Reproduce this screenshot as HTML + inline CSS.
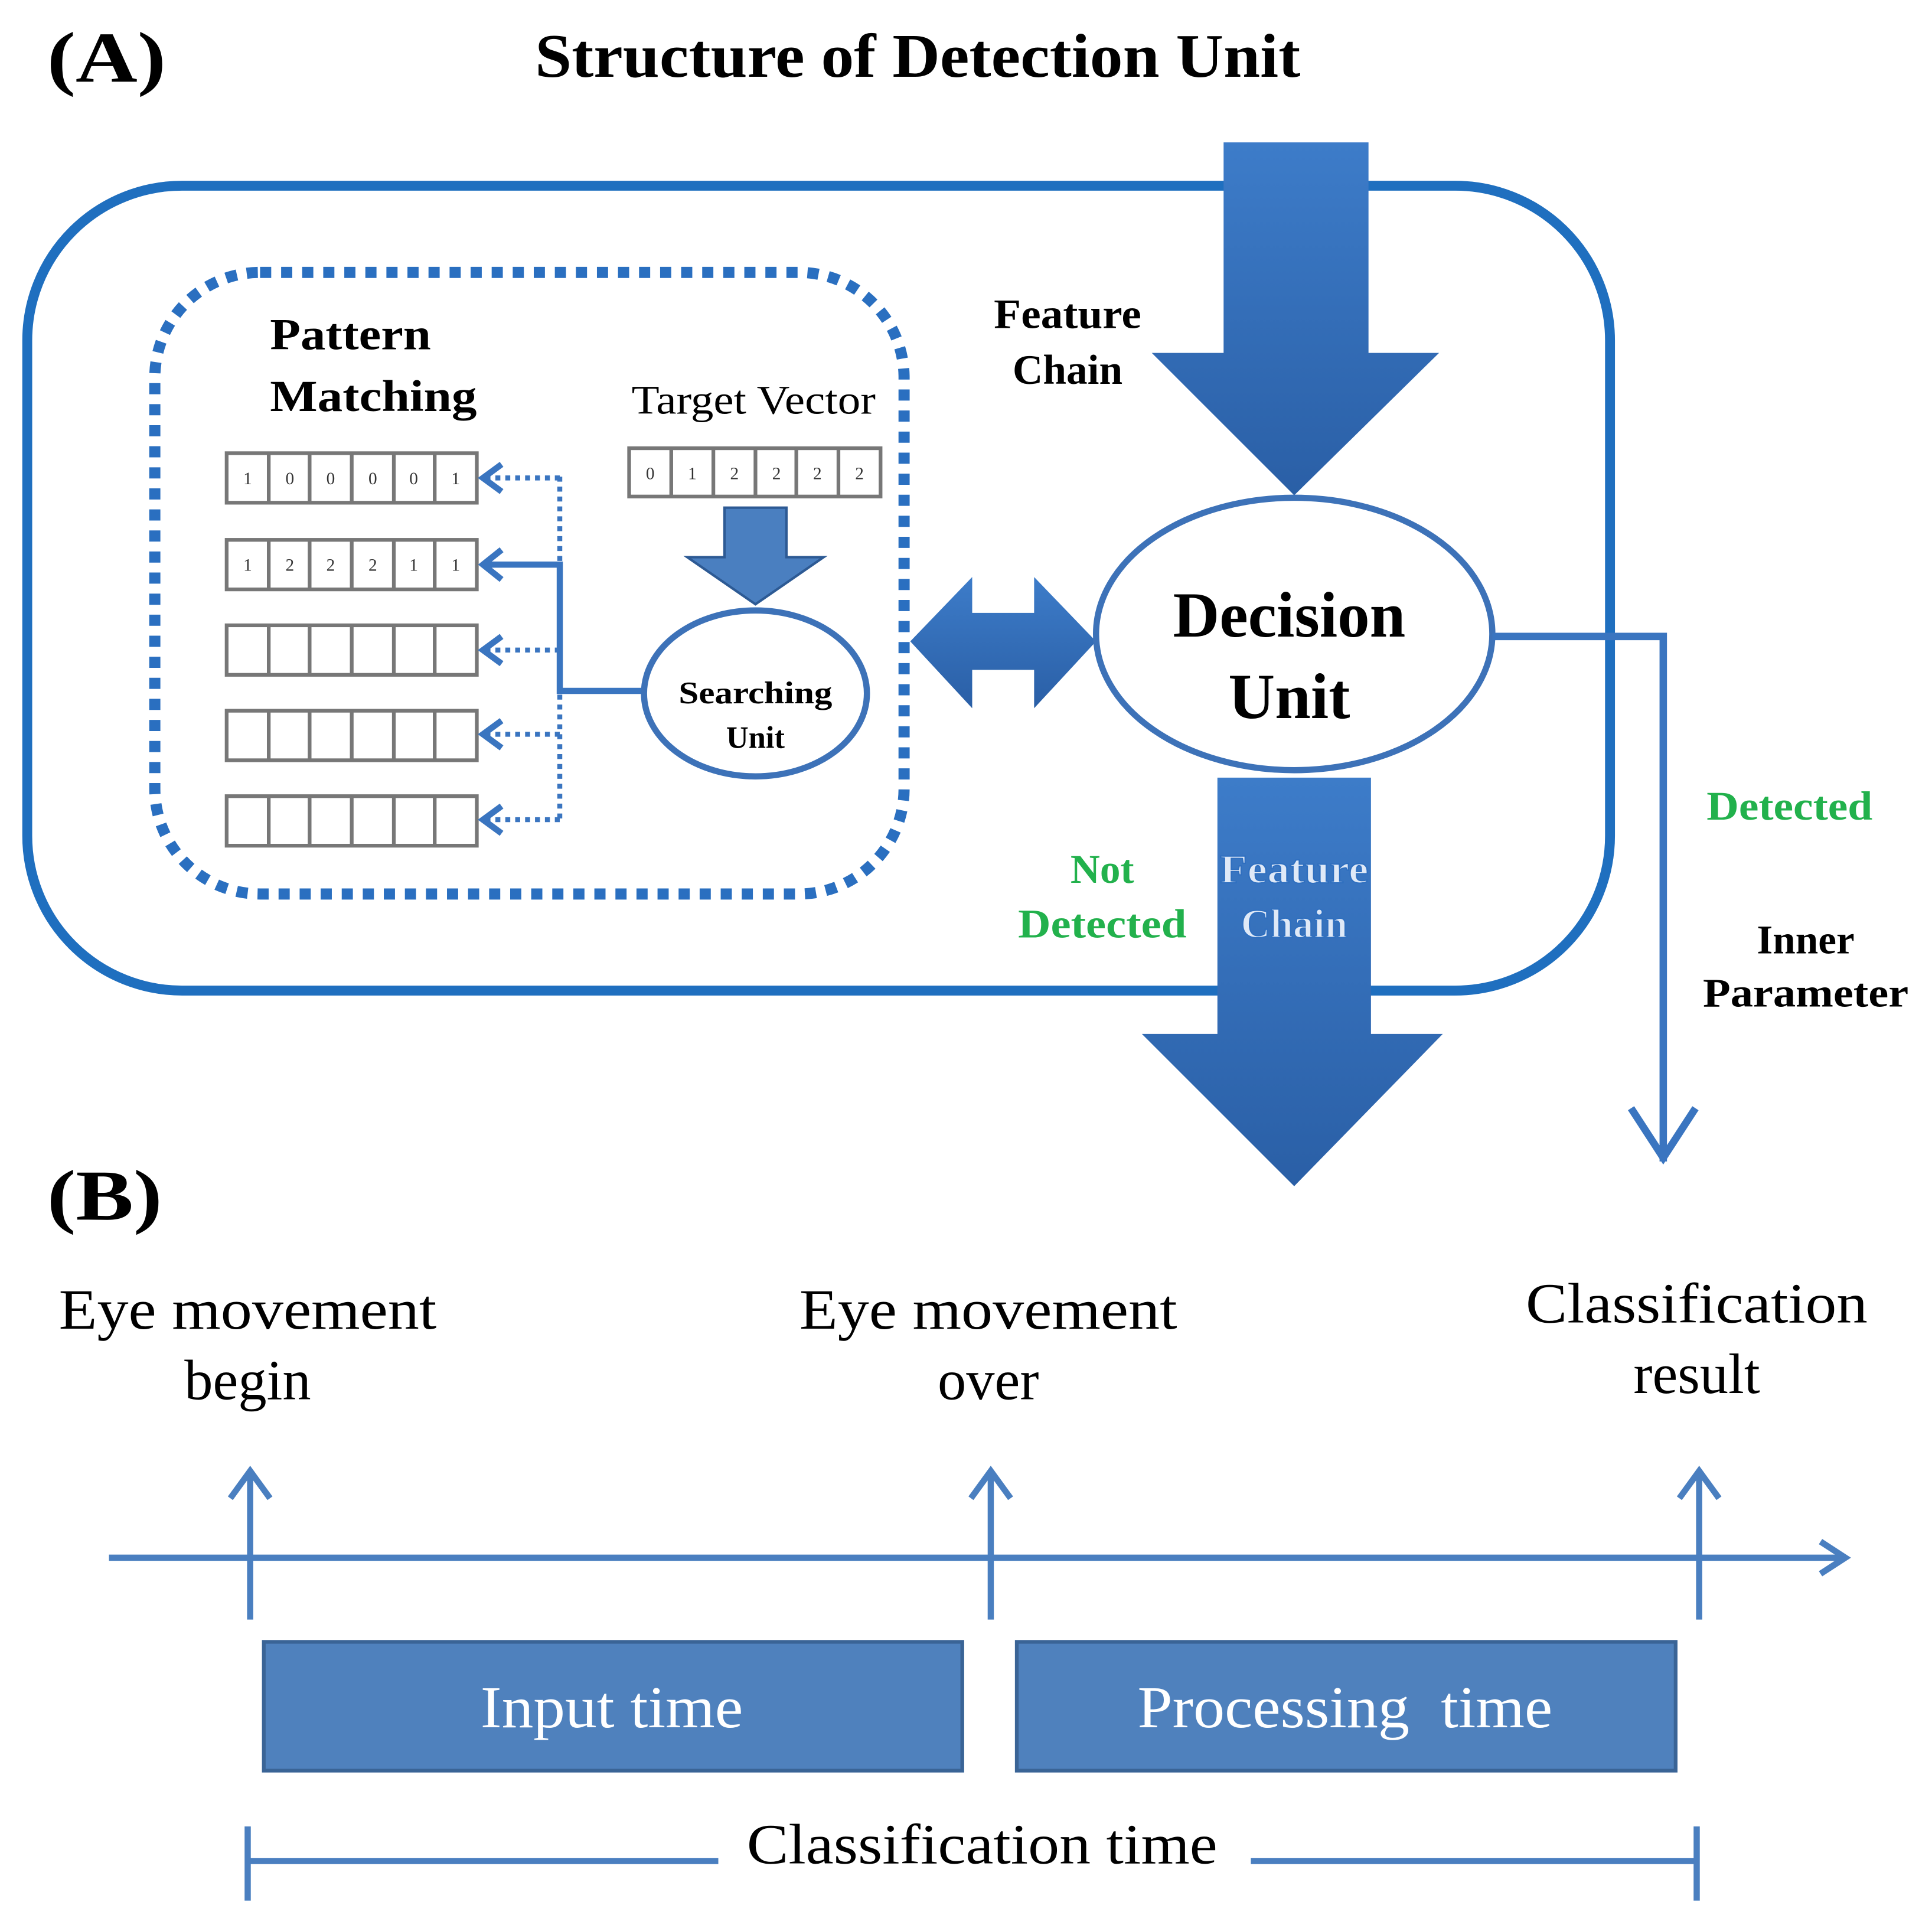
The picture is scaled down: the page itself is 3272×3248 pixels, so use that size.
<!DOCTYPE html>
<html><head><meta charset="utf-8"><style>html,body{margin:0;padding:0;background:#fff}svg{display:block}</style></head><body>
<svg width="3272" height="3248" viewBox="0 0 1560 1549" preserveAspectRatio="none" xmlns="http://www.w3.org/2000/svg" font-family="Liberation Serif, serif">
<defs>
<linearGradient id="g" x1="0" y1="0" x2="0" y2="1"><stop offset="0" stop-color="#3d7cc9"/><stop offset="1" stop-color="#2a5fa6"/></linearGradient>
</defs>
<text x="38" y="66" font-size="58" font-weight="bold" textLength="96" lengthAdjust="spacingAndGlyphs">(A)</text>
<text x="432" y="62" font-size="50" font-weight="bold" textLength="618" lengthAdjust="spacingAndGlyphs">Structure of Detection Unit</text>
<rect x="22" y="150" width="1278" height="650" rx="125" fill="none" stroke="#1f6fbf" stroke-width="8"/>
<rect x="125" y="220" width="605" height="502" rx="85" fill="none" stroke="#2a6fc0" stroke-width="9" stroke-dasharray="9 8"/>
<text x="218" y="282" font-size="36" font-weight="bold" textLength="130" lengthAdjust="spacingAndGlyphs">Pattern</text>
<text x="218" y="332" font-size="36" font-weight="bold" textLength="167" lengthAdjust="spacingAndGlyphs">Matching</text>
<text x="510" y="334" font-size="33" textLength="197" lengthAdjust="spacingAndGlyphs">Target Vector</text>
<g stroke="#777" stroke-width="3" fill="#fff">
<rect x="183" y="366" width="202" height="40"/><rect x="183" y="436" width="202" height="40"/><rect x="183" y="505" width="202" height="40"/><rect x="183" y="574" width="202" height="40"/><rect x="183" y="643" width="202" height="40"/><rect x="508" y="362" width="203" height="39"/>
<path d="M217 366V406M250 366V406M284 366V406M318 366V406M351 366V406M217 436V476M250 436V476M284 436V476M318 436V476M351 436V476M217 505V545M250 505V545M284 505V545M318 505V545M351 505V545M217 574V614M250 574V614M284 574V614M318 574V614M351 574V614M217 643V683M250 643V683M284 643V683M318 643V683M351 643V683M542 362V401M576 362V401M610 362V401M643 362V401M677 362V401"/>
</g>
<g font-size="14" text-anchor="middle" fill="#333">
<text x="200" y="391">1</text><text x="234" y="391">0</text><text x="267" y="391">0</text><text x="301" y="391">0</text><text x="334" y="391">0</text><text x="368" y="391">1</text>
<text x="200" y="461">1</text><text x="234" y="461">2</text><text x="267" y="461">2</text><text x="301" y="461">2</text><text x="334" y="461">1</text><text x="368" y="461">1</text>
<text x="525" y="387">0</text><text x="559" y="387">1</text><text x="593" y="387">2</text><text x="627" y="387">2</text><text x="660" y="387">2</text><text x="694" y="387">2</text>
</g>
<g stroke="#3a75c0" stroke-width="4" fill="none">
<path d="M452 385V662" stroke-dasharray="4 4"/>
<path d="M392 386H452M392 525H452M392 593H452M392 662H452" stroke-dasharray="4 4"/>
<path d="M392 456H452V558H520" stroke-width="5"/>
<path d="M405 375L390 386L405 397M405 444L390 456L405 468M405 514L390 525L405 536M405 582L390 593L405 604M405 651L390 662L405 673" stroke-width="5"/>
</g>
<path d="M585 410H635V450H665L610 488L555 450H585Z" fill="#4a7fc0" stroke="#2d5a94" stroke-width="2"/>
<ellipse cx="610" cy="560" rx="90" ry="67" fill="#fff" stroke="#3d72b8" stroke-width="5"/>
<text x="610" y="568" font-size="25" font-weight="bold" text-anchor="middle" textLength="124" lengthAdjust="spacingAndGlyphs">Searching</text>
<text x="610" y="604" font-size="25" font-weight="bold" text-anchor="middle">Unit</text>
<path d="M735 518L785 466V495H835V466L885 518L835 572V541H785V572Z" fill="url(#g)"/>
<path d="M988 115H1105V285H1162L1045 400L930 285H988Z" fill="url(#g)"/>
<path d="M983 628H1107V835H1165L1045 958L922 835H983Z" fill="url(#g)"/>
<ellipse cx="1045" cy="512" rx="160" ry="110" fill="#fff" stroke="#3d72b8" stroke-width="5"/>
<text x="1041" y="514" font-size="52" font-weight="bold" text-anchor="middle">Decision</text>
<text x="1041" y="580" font-size="52" font-weight="bold" text-anchor="middle">Unit</text>
<text x="862" y="265" font-size="34" font-weight="bold" text-anchor="middle" textLength="119" lengthAdjust="spacingAndGlyphs">Feature</text>
<text x="862" y="310" font-size="34" font-weight="bold" text-anchor="middle">Chain</text>
<g font-size="33" font-weight="bold" text-anchor="middle" fill="#dfe9f7" stroke="#2f6fbf" stroke-width="1">
<text x="1045" y="713" textLength="120" lengthAdjust="spacingAndGlyphs">Feature</text><text x="1045" y="757">Chain</text></g>
<g font-size="33" font-weight="bold" text-anchor="middle" fill="#22b14c">
<text x="890" y="713">Not</text><text x="890" y="757" textLength="136" lengthAdjust="spacingAndGlyphs">Detected</text><text x="1445" y="662" textLength="134" lengthAdjust="spacingAndGlyphs">Detected</text></g>
<text x="1458" y="770" font-size="33" font-weight="bold" text-anchor="middle">Inner</text>
<text x="1458" y="813" font-size="33" font-weight="bold" text-anchor="middle" textLength="166" lengthAdjust="spacingAndGlyphs">Parameter</text>
<path d="M1205 514H1343V938M1317 895L1343 935L1369 895" fill="none" stroke="#3a75c0" stroke-width="6"/>
<text x="38" y="985" font-size="58" font-weight="bold" textLength="93" lengthAdjust="spacingAndGlyphs">(B)</text>
<g font-size="46" text-anchor="middle">
<text x="200" y="1073" textLength="305" lengthAdjust="spacingAndGlyphs">Eye movement</text><text x="200" y="1130">begin</text>
<text x="798" y="1073" textLength="305" lengthAdjust="spacingAndGlyphs">Eye movement</text><text x="798" y="1130">over</text>
<text x="1370" y="1068" textLength="276" lengthAdjust="spacingAndGlyphs">Classification</text><text x="1370" y="1125">result</text>
</g>
<g stroke="#4a7fc0" stroke-width="5" fill="none">
<path d="M88 1258H1490M1470 1245L1490 1258L1470 1271"/>
<path d="M202 1308V1188M186 1210L202 1188L218 1210M800 1308V1188M784 1210L800 1188L816 1210M1372 1308V1188M1356 1210L1372 1188L1388 1210"/>
<path d="M200 1475V1535M1370 1475V1535M200 1503H580M1010 1503H1370"/>
</g>
<rect x="213" y="1326" width="564" height="104" fill="#4f81bd" stroke="#3a6496" stroke-width="3"/>
<rect x="821" y="1326" width="532" height="104" fill="#4f81bd" stroke="#3a6496" stroke-width="3"/>
<text x="494" y="1395" font-size="48" fill="#fff" text-anchor="middle" textLength="212" lengthAdjust="spacingAndGlyphs">Input time</text>
<text x="1086" y="1395" font-size="48" fill="#fff" text-anchor="middle" xml:space="preserve" textLength="335" lengthAdjust="spacingAndGlyphs">Processing  time</text>
<text x="793" y="1505" font-size="46" text-anchor="middle" textLength="380" lengthAdjust="spacingAndGlyphs">Classification time</text>
</svg>
</body></html>
